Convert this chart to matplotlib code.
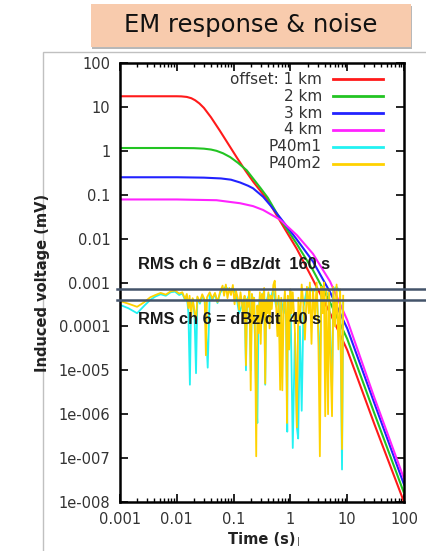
import matplotlib.pyplot as plt
from matplotlib.patches import Rectangle
from matplotlib.ticker import FixedLocator, FixedFormatter, LogLocator, NullLocator

# modelled responses, one curve per offset
km1_t = [0.001, 0.01, 0.012, 0.015, 0.018, 0.021, 0.025, 0.03, 0.04, 0.057, 0.08, 0.115,
         0.16, 0.22, 0.3, 0.4, 0.66, 1.3, 2.5, 5, 10, 30, 100]
km1_v = [17.5, 17.5, 17.4, 16.9, 15.8, 14.2, 12, 9.5, 5.8, 2.9, 1.45, 0.69,
         0.36, 0.2, 0.12, 0.075, 0.025, 0.0058, 1.15e-3, 2e-4, 2.9e-5, 6e-7, 1e-8]

km2_t = [0.001, 0.01, 0.02, 0.03, 0.04, 0.05, 0.065, 0.087, 0.12, 0.17, 0.3, 0.4,
         0.66, 1.3, 2.5, 5, 10, 30, 100]
km2_v = [1.16, 1.16, 1.15, 1.12, 1.07, 1.0, 0.88, 0.72, 0.53, 0.36, 0.14, 0.085,
         0.028, 0.0075, 1.9e-3, 3.5e-4, 5.2e-5, 1.05e-6, 1.6e-8]

km3_t = [0.001, 0.01, 0.03, 0.06, 0.09, 0.13, 0.18, 0.22, 0.33, 0.44, 0.66, 1.3,
         2.5, 5, 10, 30, 100]
km3_v = [0.25, 0.25, 0.245, 0.235, 0.22, 0.19, 0.16, 0.14, 0.09, 0.058, 0.03, 0.0095,
         3e-3, 6e-4, 9e-5, 1.8e-6, 2.5e-8]

km4_t = [0.001, 0.01, 0.05, 0.13, 0.22, 0.33, 0.66, 1.3, 2.5, 5, 10, 30, 100]
km4_v = [0.078, 0.078, 0.075, 0.064, 0.055, 0.045, 0.027, 0.012, 4.5e-3, 1.05e-3, 1.4e-4, 2.4e-6, 3.4e-8]

# measured noise traces
p40m1_t = [0.001, 0.0014, 0.002, 0.0027, 0.0034, 0.0042, 0.0052, 0.0064, 0.0078, 0.0093,
           0.011, 0.0125, 0.014, 0.015, 0.016, 0.017, 0.0178, 0.019, 0.0205, 0.0218,
           0.023, 0.0255, 0.028, 0.031, 0.035, 0.038, 0.042, 0.047, 0.052, 0.058,
           0.064, 0.073, 0.084, 0.097, 0.11, 0.125, 0.14, 0.156, 0.165, 0.172,
           0.19, 0.2, 0.21, 0.23, 0.25, 0.262, 0.275, 0.29, 0.315, 0.345,
           0.36, 0.375, 0.41, 0.45, 0.5, 0.56, 0.62, 0.66, 0.69, 0.76,
           0.8, 0.84, 0.88, 0.9, 0.95, 1.0, 1.1, 1.2, 1.3, 1.37,
           1.47, 1.58, 1.7, 1.95, 2.2, 2.5, 2.9, 3.3, 3.5, 3.9,
           4.3, 4.8, 5.4, 5.7, 6.5, 7.5, 8.1, 8.5]
p40m1_v = [3.1e-4, 2.6e-4, 2e-4, 3e-4, 4e-4, 4.8e-4, 5.4e-4, 5e-4, 6e-4, 6.2e-4,
           5.2e-4, 5.6e-4, 4e-4, 5e-4, 2e-4, 4.7e-6, 3e-4, 4.2e-4, 1.8e-4, 8.6e-6,
           4.5e-4, 3.3e-4, 5e-4, 3.8e-4, 1.15e-5, 5.6e-4, 4e-4, 5.5e-4, 3.4e-4, 5.8e-4,
           7e-4, 8e-4, 6.5e-4, 7.5e-4, 5.5e-4, 2e-4, 3e-4, 4.5e-4, 1e-5, 4e-4,
           5.5e-4, 1e-5, 5e-4, 4e-4, 2e-6, 6.3e-7, 2e-4, 5e-4, 4.5e-4, 6.5e-4,
           4.7e-6, 3.5e-4, 5.5e-4, 4.5e-4, 7e-4, 2.8e-4, 4.5e-4, 2.5e-5, 4e-4, 2e-4,
           5.5e-4, 1e-4, 4e-7, 4.5e-4, 3e-5, 6e-4, 1.7e-7, 7e-5, 5e-7, 2.8e-7,
           1e-4, 1.2e-6, 2.8e-4, 7e-4, 8e-4, 6e-4, 8e-4, 1e-5, 7e-4, 8e-4,
           6e-4, 5e-4, 3e-6, 7e-4, 8e-4, 6e-4, 5.5e-8, 4e-4]

p40m2_t = [0.001, 0.0014, 0.002, 0.0027, 0.0034, 0.0042, 0.0052, 0.0064, 0.0078, 0.0093,
           0.011, 0.0125, 0.014, 0.015, 0.016, 0.0168, 0.0178, 0.019, 0.0205, 0.0218,
           0.023, 0.0255, 0.028, 0.031, 0.0325, 0.034, 0.038, 0.042, 0.047, 0.052,
           0.058, 0.064, 0.068, 0.073, 0.078, 0.084, 0.09, 0.097, 0.104, 0.11,
           0.118, 0.125, 0.132, 0.14, 0.148, 0.156, 0.165, 0.172, 0.18, 0.19,
           0.2, 0.21, 0.22, 0.23, 0.24, 0.25, 0.262, 0.275, 0.29, 0.3,
           0.315, 0.33, 0.345, 0.36, 0.375, 0.39, 0.41, 0.43, 0.45, 0.47,
           0.5, 0.53, 0.56, 0.59, 0.62, 0.66, 0.69, 0.72, 0.76, 0.8,
           0.84, 0.87, 0.9, 0.95, 1.0, 1.05, 1.1, 1.2, 1.3, 1.38,
           1.47, 1.58, 1.7, 1.8, 1.95, 2.1, 2.2, 2.35, 2.5, 2.7,
           2.9, 3.1, 3.3, 3.5, 3.7, 3.9, 4.1, 4.3, 4.6, 4.8,
           5.1, 5.4, 5.7, 6.1, 6.5, 7.0, 7.5, 8.1, 8.5]
p40m2_v = [3.8e-4, 3.3e-4, 2.8e-4, 3.6e-4, 4.6e-4, 5.2e-4, 5.8e-4, 5.3e-4, 6.3e-4, 6.6e-4,
           5.6e-4, 6e-4, 4.2e-4, 5.5e-4, 2.6e-4, 5e-4, 1.6e-4, 4.4e-4, 2.2e-4, 1.3e-4,
           4.8e-4, 3.6e-4, 5.4e-4, 4e-4, 2.2e-5, 4.6e-4, 6e-4, 4.3e-4, 5.8e-4, 3.6e-4,
           6.2e-4, 8.5e-4, 5e-4, 9e-4, 4.4e-4, 7.5e-4, 5.2e-4, 8.8e-4, 3.2e-4, 6.5e-4,
           4.5e-4, 2.4e-4, 6e-4, 3.5e-4, 1.5e-4, 5e-4, 1.3e-5, 4.2e-4, 2.8e-4, 6.5e-4,
           3.5e-6, 5.5e-4, 1.2e-4, 4.5e-4, 3e-5, 1.1e-7, 3e-4, 7e-5, 6e-4, 4e-5,
           5.5e-4, 1.8e-4, 7.5e-4, 5e-6, 4e-4, 2e-4, 6e-4, 9e-5, 5e-4, 2.5e-4,
           8.8e-4, 1.1e-3, 3e-4, 6e-5, 5e-4, 3.6e-6, 4.5e-4, 3.5e-6, 2.5e-4, 6.5e-4,
           1.5e-4, 6.3e-7, 5e-4, 3e-5, 7e-4, 2e-4, 6e-4, 8e-5, 5e-7, 4.5e-4,
           1.2e-4, 9e-4, 3e-4, 5e-5, 8e-4, 2e-4, 1e-3, 4e-5, 7e-4, 1.5e-4,
           1e-3, 6e-5, 1.1e-7, 8e-4, 2e-4, 1e-3, 9e-7, 7e-4, 1e-6, 6e-4,
           1.5e-5, 9e-7, 8e-4, 1e-4, 9e-4, 3e-5, 7e-4, 1.6e-7, 5e-4]

legend_labels = ['offset: 1 km', '2 km', '3 km', '4 km', 'P40m1', 'P40m2']
colors = ['#ff1a1a', '#22c422', '#2222ff', '#ff22ff', '#22f2f2', '#ffd200']

rms_levels = [7.1e-4, 4.0e-4]
rms_texts = ['RMS ch 6 = dBz/dt  160 s', 'RMS ch 6 = dBz/dt  40 s']

xticks = [0.001, 0.01, 0.1, 1, 10, 100]
xtick_labels = ['0.001', '0.01', '0.1', '1', '10', '100']
yticks = [100, 10, 1, 0.1, 0.01, 0.001, 1e-4, 1e-5, 1e-6, 1e-7, 1e-8]
ytick_labels = ['100', '10', '1', '0.1', '0.01', '0.001', '0.0001',
                '1e-005', '1e-006', '1e-007', '1e-008']

fig = plt.figure(figsize=(4.26, 5.51), dpi=100)

# grey frame of the slide panel and the title box
fig.patches.append(Rectangle((0.101, -0.05), 1.0, 0.9556, transform=fig.transFigure,
                             facecolor='none', edgecolor='#c0c0c0', lw=1, zorder=0))
fig.patches.append(Rectangle((0.2166, 0.9117), 0.7512, 0.078, transform=fig.transFigure,
                             facecolor='#b8b8b8', edgecolor='none', zorder=1))
fig.patches.append(Rectangle((0.2136, 0.9147), 0.7512, 0.078, transform=fig.transFigure,
                             facecolor='#f8cbad', edgecolor='none', zorder=2))
fig.text(0.589, 0.954, 'EM response & noise', ha='center', va='center',
         fontsize=17.5, family='DejaVu Sans', color='#111111', zorder=3)

ax = fig.add_axes([0.2817, 0.0889, 0.6667, 0.7967])
ax.set_zorder(5)
ax.set_xscale('log')
ax.set_yscale('log')

curves = [(km1_t, km1_v), (km2_t, km2_v), (km3_t, km3_v), (km4_t, km4_v)]
for (t, v), c in zip(curves, colors[:4]):
    ax.plot(t, v, color=c, lw=1.5, solid_joinstyle='round')
ax.plot(p40m1_t, p40m1_v, color=colors[4], lw=1.3)
ax.plot(p40m2_t, p40m2_v, color=colors[5], lw=1.3)

ax.set_xlim(0.001, 100)
ax.set_ylim(1e-8, 100)

ax.xaxis.set_major_locator(FixedLocator(xticks))
ax.xaxis.set_major_formatter(FixedFormatter(xtick_labels))
ax.xaxis.set_minor_locator(LogLocator(base=10, subs=range(2, 10)))
ax.yaxis.set_major_locator(FixedLocator(yticks))
ax.yaxis.set_major_formatter(FixedFormatter(ytick_labels))
ax.yaxis.set_minor_locator(NullLocator())
ax.tick_params(which='both', direction='in', top=True, right=True,
               labelsize=10.5, labelcolor='#333333', pad=7)
ax.tick_params(which='major', length=6, width=1.2)
ax.tick_params(which='minor', length=3, width=1.0)
for s in ax.spines.values():
    s.set_linewidth(1.8)

ax.set_xlabel('Time (s)', fontsize=10.5, fontweight='bold', color='#222222', labelpad=4)
ax.set_ylabel('Induced voltage (mV)', fontsize=10.5, fontweight='bold', color='#222222', labelpad=6)
fig.text(0.697, 0.013, '|', fontsize=6, color='#333333')

# legend drawn gnuplot style: label on the left, sample on the right
for i, (lab, c) in enumerate(zip(legend_labels, colors)):
    y = 0.963 - i * 0.0385
    ax.text(0.711, y, lab, transform=ax.transAxes, ha='right', va='center',
            fontsize=11, color='#333333')
    ax.plot([0.75, 0.926], [y, y], transform=ax.transAxes, color=c, lw=2)

# RMS noise levels added on the slide
for lev in rms_levels:
    ax.axhline(lev, xmin=-0.01, xmax=1.1, color='#44546a', lw=1.8, clip_on=False, zorder=5)
ax.text(0.063, 0.54, rms_texts[0], transform=ax.transAxes, ha='left', va='center',
        fontsize=11.8, fontweight='bold', family='Liberation Sans', color='#1a1a1a', zorder=6)
ax.text(0.063, 0.415, rms_texts[1], transform=ax.transAxes, ha='left', va='center',
        fontsize=11.8, fontweight='bold', family='Liberation Sans', color='#1a1a1a', zorder=6)

fig.savefig('out.png', dpi=100)
